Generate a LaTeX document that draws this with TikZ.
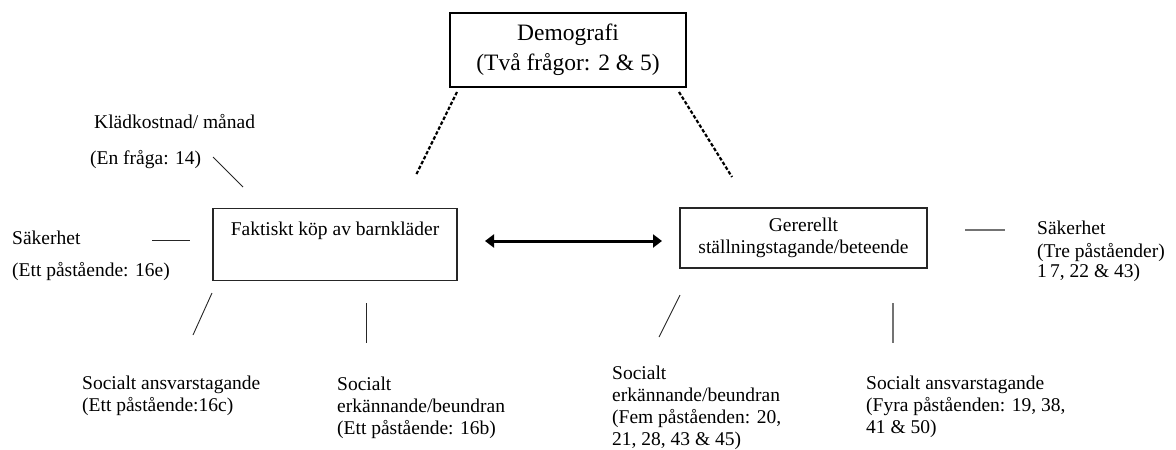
\documentclass[tikz,border=0pt]{standalone}
\usepackage{fontspec}
\setmainfont{Liberation Serif}
\usetikzlibrary{arrows.meta}

\tikzset{
  txt/.style={inner sep=0pt, font=\fontsize{19.5}{22}\selectfont, align=left},
  boxnode/.style={draw=black!85, line width=1.1pt, inner sep=0pt,
    font=\fontsize{19.5}{22}\selectfont, align=center},
  topbox/.style={draw=black, line width=1.5pt, inner sep=0pt,
    font=\fontsize{23.5}{30}\selectfont, align=center},
  thinlink/.style={draw=black!85, line width=0.9pt},
  greylink/.style={draw=black!55, line width=1.6pt},
  dashlink/.style={draw=black, line width=2.2pt, dash pattern=on 3.5pt off 2pt},
  biarrow/.style={draw=black, line width=3pt,
    {Triangle[length=9pt,width=13pt]}-{Triangle[length=9pt,width=13pt]}}
}

\begin{document}
\begin{tikzpicture}[x=1pt,y=-1pt]
\useasboundingbox (0,0) rectangle (1176,450);

% main boxes
\node[topbox, minimum width=236pt, minimum height=74pt] (demo) at (568,50)
  {Demografi\\(Två frågor: 2 \& 5)};
\node[boxnode, minimum width=244pt, anchor=north,
      text height=20.5pt, text depth=39.5pt, inner ysep=6pt] (kop) at (335,208)
  {Faktiskt köp av barnkläder};
\node[boxnode, minimum width=247pt, minimum height=60pt] (gen) at (803.5,238)
  {Gererellt\\ställningstagande/beteende};

% factors around the left box
\node[txt, anchor=west] (kost) at (94,122) {Klädkostnad/ månad};
\node[txt, anchor=west] (kostq) at (90,160) {(En fråga: 14)};
\node[txt, anchor=west] (sak1) at (12,238) {Säkerhet};
\node[txt, anchor=west] (sak1q) at (12,272) {(Ett påstående: 16e)};
\node[txt, anchor=north west] (ans1) at (82,376)
  {Socialt ansvarstagande\\(Ett påstående:16c)};
\node[txt, anchor=north west] (erk1) at (337,377)
  {Socialt\\erkännande/beundran\\(Ett påstående: 16b)};

% factors around the right box
\node[txt, anchor=west] (sak2) at (1037,228) {Säkerhet};
\node[txt, anchor=north west] (sak2q) at (1037,243)
  {(Tre påståender)\\[-2pt]1\,7, 22 \& 43)};
\node[txt, anchor=north west] (erk2) at (612,366)
  {Socialt\\erkännande/beundran\\(Fem påståenden: 20,\\21, 28, 43 \& 45)};
\node[txt, anchor=north west] (ans2) at (866,376)
  {Socialt ansvarstagande\\(Fyra påståenden: 19, 38,\\41 \& 50)};

% link end points
\coordinate (dl1) at (457,92);  \coordinate (dl2) at (416,175);
\coordinate (dr1) at (679,92);  \coordinate (dr2) at (732,177);
\coordinate (ar1) at (485,241); \coordinate (ar2) at (662,241);
\coordinate (k1) at (213,157);  \coordinate (k2) at (243,187);
\coordinate (s1) at (152,240);  \coordinate (s2) at (190,240);
\coordinate (a1) at (212,293);  \coordinate (a2) at (193,335);
\coordinate (e1) at (366,303);  \coordinate (e2) at (366,343);
\coordinate (t1) at (965,230);  \coordinate (t2) at (1005,230);
\coordinate (f1) at (680,295);  \coordinate (f2) at (659,337);
\coordinate (g1) at (893,303);  \coordinate (g2) at (893,343);

% links
\draw[dashlink] (dl1) -- (dl2);
\draw[dashlink] (dr1) -- (dr2);
\draw[biarrow] (ar1) -- (ar2);
\draw[thinlink] (k1) -- (k2);
\draw[thinlink] (s1) -- (s2);
\draw[thinlink] (a1) -- (a2);
\draw[thinlink] (e1) -- (e2);
\draw[greylink] (t1) -- (t2);
\draw[thinlink] (f1) -- (f2);
\draw[greylink] (g1) -- (g2);
\end{tikzpicture}
\end{document}
